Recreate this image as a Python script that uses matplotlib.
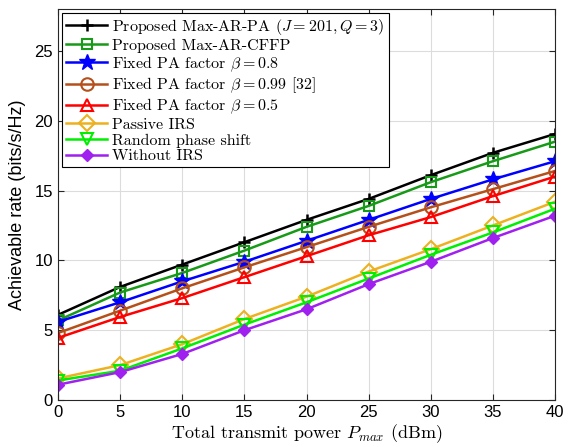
import numpy as np
import matplotlib
matplotlib.use("Agg")
from matplotlib import pyplot as plt

# data
p_max = [0, 5, 10, 15, 20, 25, 30, 35, 40]
rate_ar_pa = [6.1, 8.1, 9.7, 11.3, 12.9, 14.4, 16.1, 17.7, 19.05]
rate_cffp = [5.7, 7.7, 9.1, 10.7, 12.4, 13.9, 15.6, 17.1, 18.5]
rate_beta08 = [5.6, 7.0, 8.5, 9.9, 11.4, 12.9, 14.4, 15.8, 17.1]
rate_beta099 = [4.8, 6.4, 8.0, 9.5, 10.95, 12.4, 13.8, 15.1, 16.4]
rate_beta05 = [4.45, 5.95, 7.3, 8.8, 10.3, 11.8, 13.1, 14.6, 16.0]
rate_passive = [1.55, 2.5, 4.0, 5.8, 7.4, 9.2, 10.8, 12.5, 14.2]
rate_random = [1.4, 2.1, 3.7, 5.4, 7.0, 8.7, 10.4, 12.0, 13.7]
rate_no_irs = [1.1, 2.0, 3.3, 5.0, 6.5, 8.3, 9.9, 11.6, 13.2]

labels = [
    r"Proposed Max-AR-PA ($J=201, Q=3$)",
    "Proposed Max-AR-CFFP",
    r"Fixed PA factor $\beta=0.8$",
    r"Fixed PA factor $\beta=0.99$ [32]",
    r"Fixed PA factor $\beta=0.5$",
    "Passive IRS",
    "Random phase shift",
    "Without IRS",
]

plt.rcParams["mathtext.fontset"] = "cm"
plt.rcParams["axes.unicode_minus"] = False

fig = plt.figure(figsize=(5.74, 4.47), dpi=100)
ax = fig.add_axes([0.101, 0.105, 0.866, 0.875])

series = [rate_ar_pa, rate_cffp, rate_beta08, rate_beta099,
          rate_beta05, rate_passive, rate_random, rate_no_irs]
styles = [
    dict(color="black", marker="+", ms=9, mew=1.8),
    dict(color="#179a17", marker="s", ms=7, mfc="none", mew=1.5),
    dict(color="#0000ff", marker="*", ms=12, mew=1.0),
    dict(color="#b5501a", marker="o", ms=9, mfc="none", mew=1.5),
    dict(color="#ff0000", marker="^", ms=9, mfc="none", mew=1.5),
    dict(color="#edb120", marker="D", ms=8, mfc="none", mew=1.5),
    dict(color="#00ee00", marker="v", ms=9, mfc="none", mew=1.5),
    dict(color="#a020f0", marker="D", ms=6, mew=1.0),
]

for y, lab, st in zip(series, labels, styles):
    ax.plot(p_max, y, lw=1.8, label=lab, **st)

ax.set_xlim(0, 40)
ax.set_ylim(0, 28)
ax.set_xticks(np.arange(0, 41, 5))
ax.set_yticks(np.arange(0, 26, 5))
ax.grid(True, color="#dcdcdc", lw=0.8)
ax.set_axisbelow(True)
ax.tick_params(direction="in", top=True, right=True, labelsize=12,
               length=4, color="#262626")
for lab in ax.get_xticklabels() + ax.get_yticklabels():
    lab.set_family("Liberation Sans")
for s in ax.spines.values():
    s.set_color("#262626")
    s.set_linewidth(0.8)

ax.set_xlabel(r"Total transmit power $P_{max}$ (dBm)", family="cmr10", fontsize=13, labelpad=2)
ax.set_ylabel("Achievable rate (bits/s/Hz)", family="Liberation Sans", fontsize=13, labelpad=6)

leg = ax.legend(loc="upper left", prop={"family": "cmr10", "size": 11.5},
                fancybox=False, edgecolor="black", framealpha=1,
                borderaxespad=0.25, handlelength=2.6, labelspacing=0.1,
                borderpad=0.25, handletextpad=0.3)
leg.get_frame().set_linewidth(0.8)

fig.savefig("out.png", dpi=100)
